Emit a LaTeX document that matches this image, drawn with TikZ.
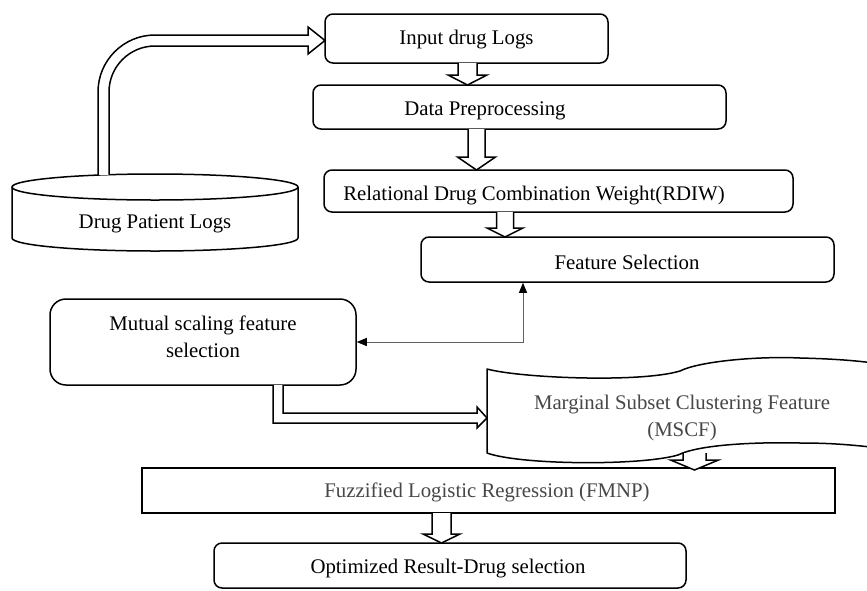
\documentclass[tikz,border=0pt]{standalone}
\usepackage{fontspec}
\setmainfont{Liberation Serif}
\usetikzlibrary{arrows.meta}

% vertical hollow block arrow: centre x, top y, head base y, tip y, shaft half width, head half width
\newcommand{\hollowdown}[6]{%
  \filldraw[hollow] ({#1-#5},#2) -- ({#1-#5},#3) -- ({#1-#6},#3) -- (#1,#4)
    -- ({#1+#6},#3) -- ({#1+#5},#3) -- ({#1+#5},#2);}

\begin{document}
\begin{tikzpicture}[x=1pt,y=-1pt,
  box/.style={draw, line width=1.5pt, rounded corners=8pt, inner sep=0pt, fill=white},
  lbl/.style={anchor=base, inner sep=0pt, font=\fontsize{20.8}{27}\selectfont},
  dim/.style={text=black!72},
  hollow/.style={draw, fill=white, line width=1.5pt, line join=miter},
  link/.style={draw=black!62, line width=0.9pt,
    {Triangle[length=10pt,width=8pt,color=black]}-{Triangle[length=10pt,width=8pt,color=black]}}]

\path[use as bounding box, clip] (0,0) rectangle (867,590);

% ---- database cylinder ----
\filldraw[fill=white, line width=1.5pt] (12,187) -- (12,238)
  arc[start angle=180, end angle=360, x radius=143pt, y radius=13pt] -- (298,187);
\draw[line width=1.5pt] (155,187) ellipse [x radius=143pt, y radius=13pt];
\node[lbl] (dpl) at (155,228) {Drug Patient Logs};

% ---- process boxes ----
\node[box, minimum width=283pt, minimum height=49pt] (input) at (466.5,38.5) {};
\node[lbl] (inputtxt) at (466.5,44) {Input drug Logs};

\node[box, minimum width=413pt, minimum height=44pt] (data) at (519.5,107) {};
\node[lbl] (datatxt) at (485,115) {Data Preprocessing};

\node[box, minimum width=469pt, minimum height=42pt] (rdiw) at (558.5,191) {};
\node[lbl] (rdiwtxt) at (534,200) {Relational Drug Combination Weight(RDIW)};

\node[box, minimum width=413pt, minimum height=45pt] (feat) at (627.5,259.5) {};
\node[lbl] (feattxt) at (627,269) {Feature Selection};

\node[box, rounded corners=16pt, minimum width=306pt, minimum height=86pt] (mutual) at (203,342) {};
\node[lbl] (mutual1) at (203,330) {Mutual scaling feature};
\node[lbl] (mutual2) at (203,357) {selection};

% ---- curved block arrow from the database to the input box ----
\filldraw[hollow] (98,175) -- (98,92) arc[start angle=180, end angle=90, radius=57pt]
  -- (308,35) -- (308,27) -- (325,40.5) -- (308,54) -- (308,46) -- (155,46)
  arc[start angle=90, end angle=180, radius=46pt] -- (109,175);

% ---- straight block arrows in the main column ----
\hollowdown{467.5}{63}{75}{85}{9.5}{19.5}
\hollowdown{476.5}{129}{157}{170}{8.5}{19}
\hollowdown{505}{212}{228}{237}{8.5}{18}

% ---- two-way link between mutual scaling and feature selection ----
\coordinate (bend) at (523,342);
\draw[link] (mutual.east) -- (bend) -- (bend |- feat.south);

% ---- punched-tape shaped MSCF block ----
\filldraw[fill=white, line width=1.5pt, line join=round]
  (487,369) .. controls (520,378) and (640,383) .. (680,371)
  .. controls (700,361) and (760,356) .. (800,358)
  .. controls (840,359) and (860,361) .. (890,365)
  -- (890,449)
  .. controls (860,446) and (840,443) .. (800,443)
  .. controls (760,442) and (700,444) .. (678,455)
  .. controls (640,466) and (520,465) .. (487,453) -- cycle;
\node[lbl, dim] (mscf1) at (682,409) {Marginal Subset Clustering Feature};
\node[lbl, dim] (mscf2) at (682,436) {(MSCF)};

% ---- bent block arrow from mutual scaling to MSCF ----
\filldraw[hollow] (273,385) -- (273,423) -- (477,423) -- (477,428) -- (487,418)
  -- (477,407) -- (477,413) -- (283,413) -- (283,385);

% ---- regression and result ----
\node[draw, line width=1.5pt, fill=white, inner sep=0pt, minimum width=693pt, minimum height=45pt] (fuzz) at (488.5,490.5) {};
\node[lbl, dim] (fuzztxt) at (487,497) {Fuzzified Logistic Regression (FMNP)};
\hollowdown{694.5}{453}{460}{470}{11.5}{24}

\node[box, minimum width=472pt, minimum height=45pt] (opt) at (450,565.5) {};
\node[lbl] (opttxt) at (448,573) {Optimized Result-Drug selection};
\hollowdown{441.5}{513}{534}{543}{9.5}{18.5}

\end{tikzpicture}
\end{document}
